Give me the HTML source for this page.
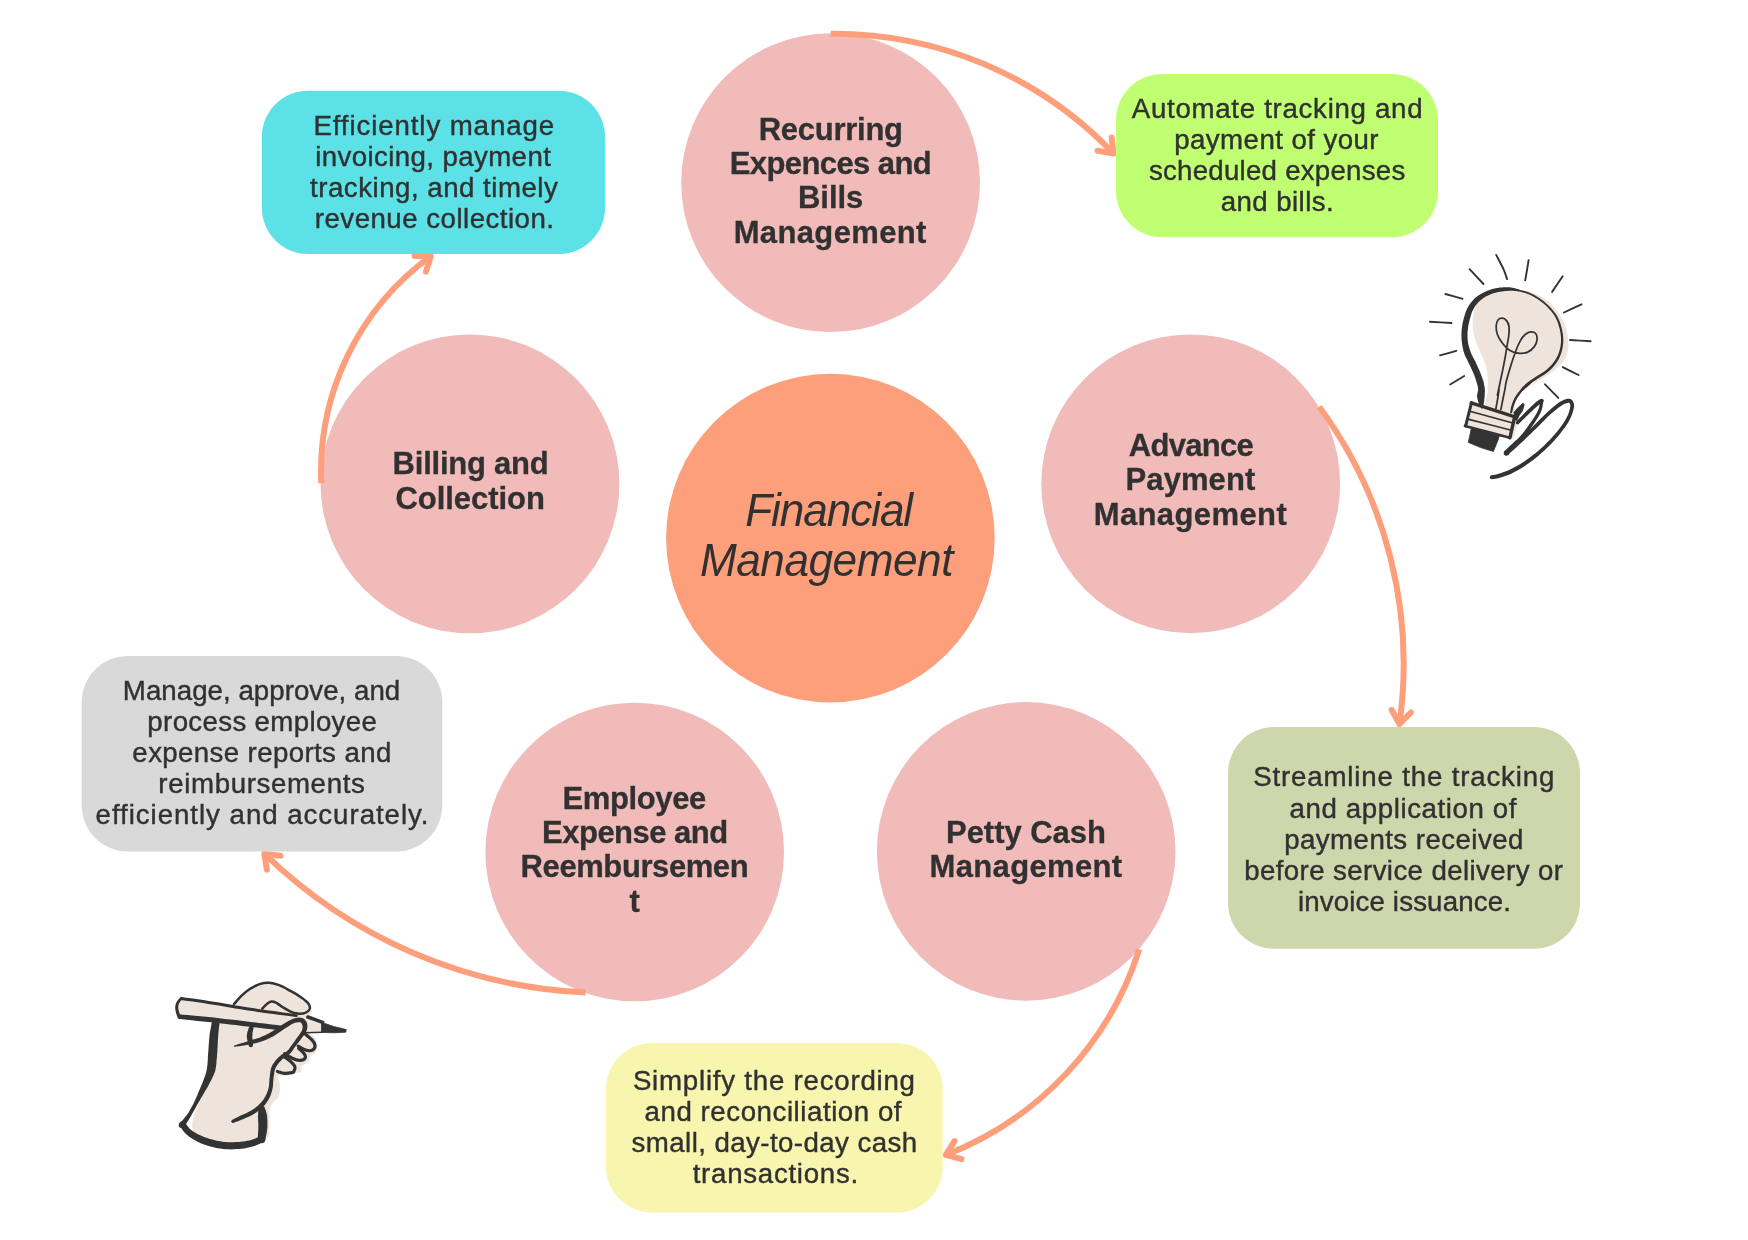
<!DOCTYPE html>
<html lang="en"><head><meta charset="utf-8"><title>Financial Management</title>
<style>
html,body{margin:0;padding:0;background:#fff}
body{width:1748px;height:1240px;overflow:hidden}
svg{display:block}
text{font-family:"Liberation Sans",sans-serif;fill:#313132}
.r{font-size:27px;stroke:#313132;stroke-width:0.4px}
.b{font-size:31px;font-weight:700;stroke:#313132;stroke-width:0.3px}
.i{font-size:46.5px;font-style:italic}
</style></head><body>
<svg width="1748" height="1240" viewBox="0 0 1748 1240">
<g id="circles">
<circle cx="830.6" cy="182.7" r="149.4" fill="#F1BBB9"/>
<circle cx="470" cy="483.9" r="149.4" fill="#F1BBB9"/>
<circle cx="1190.7" cy="483.8" r="149.4" fill="#F1BBB9"/>
<circle cx="634.7" cy="852" r="149.3" fill="#F1BBB9"/>
<circle cx="1026.2" cy="851.4" r="149.3" fill="#F1BBB9"/>
<circle cx="830.4" cy="538.1" r="164.3" fill="#FE9F7C"/>
</g>
<g id="arrows">
<path d="M830.70 33.68A386.04 386.04 0 0 1 1113.61 153.59" fill="none" stroke="#FE9F7C" stroke-width="6"/><path d="M1097.55 150.78L1113.61 153.59L1111.60 137.41" fill="none" stroke="#FE9F7C" stroke-width="6" stroke-linecap="round" stroke-linejoin="round"/>
<path d="M321.27 483.20A266.64 266.64 0 0 1 430.83 256.17" fill="none" stroke="#FE9F7C" stroke-width="6"/><path d="M425.94 271.72L430.83 256.17L414.53 256.04" fill="none" stroke="#FE9F7C" stroke-width="6" stroke-linecap="round" stroke-linejoin="round"/>
<path d="M1319.17 406.72A433.51 433.51 0 0 1 1399.44 724.11" fill="none" stroke="#FE9F7C" stroke-width="6"/><path d="M1391.66 709.78L1399.44 724.11L1410.86 712.48" fill="none" stroke="#FE9F7C" stroke-width="6" stroke-linecap="round" stroke-linejoin="round"/>
<path d="M1139.28 949.26A327.22 327.22 0 0 1 945.83 1154.91" fill="none" stroke="#FE9F7C" stroke-width="6"/><path d="M954.54 1141.14L945.83 1154.91L961.55 1159.22" fill="none" stroke="#FE9F7C" stroke-width="6" stroke-linecap="round" stroke-linejoin="round"/>
<path d="M585.51 992.48A492.89 492.89 0 0 1 264.29 853.61" fill="none" stroke="#FE9F7C" stroke-width="6"/><path d="M280.44 855.78L264.29 853.61L266.93 869.69" fill="none" stroke="#FE9F7C" stroke-width="6" stroke-linecap="round" stroke-linejoin="round"/>
</g>
<g id="boxes">
<rect x="261.9" y="90.7" width="343.1" height="163.3" rx="46" fill="#5CE1E6"/>
<rect x="1116.0" y="74.0" width="322.0" height="163.2" rx="46" fill="#C1FF72"/>
<rect x="81.7" y="656.0" width="360.6" height="195.5" rx="46" fill="#D9D9D9"/>
<rect x="606.0" y="1043.1" width="336.8" height="169.4" rx="46" fill="#F8F5AE"/>
<rect x="1228.0" y="727.0" width="352.0" height="221.8" rx="46" fill="#CED6AB"/>
</g>
<g id="illus">
<path d="M1478.1 301.9C1480.4 299.0 1484.3 297.4 1487.7 295.8C1491.2 294.2 1494.8 293.0 1498.6 292.2C1502.5 291.4 1506.7 291.3 1510.7 291.0C1514.8 290.7 1518.8 290.0 1522.8 290.4C1526.9 290.8 1531.1 291.9 1534.9 293.4C1538.7 294.9 1542.4 296.8 1545.8 299.4C1549.2 302.1 1552.5 305.3 1555.5 309.1C1558.5 312.9 1561.9 318.0 1564.0 322.4C1566.0 326.9 1566.9 331.5 1567.6 335.7C1568.3 340.0 1568.6 344.0 1568.2 347.8C1567.8 351.7 1566.7 355.7 1565.2 358.7C1563.6 361.7 1561.5 363.5 1559.1 366.0C1556.7 368.4 1553.7 371.0 1550.6 373.2C1547.6 375.4 1544.2 377.1 1541.0 379.3C1537.7 381.5 1533.9 383.9 1531.3 386.5C1528.7 389.2 1524.3 396.6 1525.2 395.0C1526.2 393.4 1536.5 378.7 1536.8 376.8C1537.1 374.9 1530.0 381.0 1527.1 383.6C1524.2 386.1 1521.5 389.2 1519.4 392.3C1517.3 395.3 1515.7 398.6 1514.5 401.9C1513.4 405.3 1517.3 411.9 1512.6 412.6C1507.9 413.2 1490.7 408.9 1486.5 405.8C1482.3 402.7 1487.2 398.6 1487.4 394.2C1487.7 389.8 1487.9 381.2 1487.9 379.7C1488.0 378.2 1487.8 386.0 1487.7 385.3C1487.7 384.6 1488.0 378.9 1487.7 375.6C1487.4 372.4 1486.8 369.2 1485.9 366.0C1485.0 362.7 1483.7 359.7 1482.3 356.3C1480.9 352.9 1478.9 349.0 1477.5 345.4C1476.0 341.8 1474.6 338.1 1473.8 334.5C1473.0 330.9 1472.6 327.3 1472.6 323.6C1472.6 320.0 1472.9 316.4 1473.8 312.7C1474.7 309.1 1475.7 304.7 1478.1 301.9Z" fill="#EEE4DB"/>
<path d="M1471.0 402.4L1515.0 416.5L1516.5 424.2L1513.6 437.8L1509.7 437.8L1465.4 426.1Z" fill="#EEE4DB" stroke="#EEE4DB" stroke-width="0.8" stroke-linejoin="round"/>
<path d="M1516.6 290.8L1517.9 291.2L1519.8 291.6L1521.9 292.2L1524.2 292.8L1526.5 293.5L1528.5 294.2L1530.4 295.0L1532.2 295.9L1534.0 296.9L1535.8 297.9L1537.5 299.0L1539.2 300.2L1540.9 301.4L1542.6 302.8L1544.2 304.1L1545.8 305.6L1547.3 307.1L1548.7 308.6L1550.1 310.1L1551.4 311.6L1552.6 313.1L1553.8 314.7L1554.8 316.3L1555.8 318.1L1556.7 319.9L1557.5 321.8L1558.2 323.8L1558.8 325.9L1559.4 327.9L1559.9 329.9L1560.3 331.9L1560.6 333.9L1560.8 335.8L1561.0 337.8L1561.0 339.8L1561.0 341.7L1560.8 343.7L1560.6 345.7L1560.2 347.7L1559.7 349.7L1559.2 351.6L1558.6 353.5L1557.9 355.2L1557.1 356.8L1556.3 358.3L1555.4 359.8L1554.4 361.3L1553.3 362.8L1552.1 364.2L1550.8 365.7L1549.4 367.1L1547.9 368.5L1546.5 369.8L1545.0 371.0L1543.5 372.1L1541.9 373.1L1540.3 374.0L1538.6 375.0L1537.0 375.9L1535.4 376.9L1533.9 378.0L1532.4 379.0L1530.9 380.0L1529.5 381.0L1528.1 382.1L1526.8 383.1L1525.4 384.3L1523.9 385.7L1522.5 387.1L1521.4 388.4L1520.6 389.2L1522.4 391.2L1523.5 390.3L1525.4 388.6L1527.8 386.5L1530.1 384.4L1531.9 382.8L1532.8 381.9L1530.9 380.4L1529.7 381.3L1527.9 382.7L1525.9 384.3L1524.0 386.0L1522.4 387.5L1521.0 388.9L1519.8 390.4L1518.6 391.9L1517.4 393.4L1516.4 394.9L1515.4 396.5L1514.5 398.0L1513.8 399.6L1513.1 401.1L1512.5 402.6L1512.0 404.1L1511.5 405.5L1511.1 406.8L1510.8 408.2L1510.6 409.6L1510.4 410.7L1510.3 411.7L1510.2 412.4L1512.1 412.8L1512.3 412.0L1512.5 411.1L1512.7 409.9L1513.0 408.7L1513.3 407.4L1513.7 406.2L1514.2 404.9L1514.7 403.5L1515.3 402.1L1516.0 400.6L1516.7 399.2L1517.5 397.8L1518.5 396.3L1519.5 394.9L1520.5 393.4L1521.7 392.0L1522.9 390.6L1524.1 389.3L1525.6 387.8L1527.5 386.2L1529.4 384.6L1531.1 383.2L1532.3 382.3L1531.1 380.4L1530.4 381.0L1528.5 382.6L1526.1 384.6L1523.7 386.7L1521.8 388.3L1520.8 389.1L1522.7 390.9L1523.3 390.2L1524.4 389.0L1525.8 387.6L1527.2 386.3L1528.5 385.1L1529.7 384.2L1531.0 383.2L1532.4 382.2L1533.9 381.2L1535.4 380.2L1536.9 379.2L1538.4 378.2L1540.0 377.3L1541.6 376.3L1543.3 375.3L1545.0 374.3L1546.6 373.1L1548.2 371.8L1549.7 370.4L1551.2 368.9L1552.7 367.4L1554.0 365.9L1555.3 364.3L1556.4 362.8L1557.5 361.2L1558.5 359.6L1559.3 357.9L1560.1 356.1L1560.9 354.3L1561.5 352.3L1562.0 350.3L1562.5 348.2L1562.9 346.1L1563.1 343.9L1563.3 341.8L1563.3 339.8L1563.2 337.7L1563.1 335.6L1562.8 333.5L1562.4 331.5L1562.0 329.4L1561.5 327.4L1560.9 325.2L1560.2 323.1L1559.4 321.1L1558.6 319.0L1557.6 317.1L1556.6 315.3L1555.4 313.6L1554.2 311.9L1552.9 310.3L1551.6 308.8L1550.1 307.2L1548.7 305.7L1547.1 304.2L1545.4 302.7L1543.8 301.3L1542.0 300.0L1540.3 298.7L1538.5 297.5L1536.7 296.4L1534.9 295.3L1533.0 294.3L1531.1 293.4L1529.2 292.5L1527.1 291.8L1524.7 291.1L1522.4 290.5L1520.2 289.9L1518.3 289.5L1517.0 289.2Z" fill="#333333"/><circle cx="1516.8" cy="290.0" r="0.85" fill="#333333"/><circle cx="1511.1" cy="412.6" r="0.97" fill="#333333"/>
<path d="M1518.7 289.5L1517.8 289.2L1516.5 288.8L1515.0 288.3L1513.3 287.9L1511.4 287.5L1509.6 287.2L1507.7 287.2L1505.8 287.2L1503.8 287.2L1501.7 287.4L1499.6 287.6L1497.6 287.9L1495.6 288.3L1493.5 288.8L1491.5 289.3L1489.5 290.0L1487.5 290.7L1485.6 291.5L1483.7 292.4L1481.8 293.4L1480.0 294.5L1478.3 295.6L1476.6 296.8L1475.0 298.1L1473.6 299.4L1472.3 300.9L1471.0 302.4L1469.9 303.9L1468.9 305.5L1467.9 307.2L1467.0 308.9L1466.2 310.7L1465.5 312.6L1464.9 314.4L1464.4 316.2L1463.9 318.0L1463.4 319.8L1463.0 321.7L1462.6 323.6L1462.2 325.5L1462.0 327.4L1461.7 329.4L1461.6 331.4L1461.5 333.3L1461.4 335.4L1461.5 337.4L1461.6 339.5L1461.8 341.5L1462.0 343.6L1462.3 345.6L1462.7 347.7L1463.2 349.7L1463.7 351.7L1464.3 353.8L1465.1 355.8L1466.0 357.7L1467.0 359.6L1467.9 361.4L1468.8 363.2L1469.7 364.9L1470.5 366.7L1471.3 368.6L1472.2 370.4L1473.0 372.2L1473.7 373.9L1474.4 375.6L1475.1 377.5L1475.7 379.5L1476.4 381.6L1476.9 383.5L1477.4 384.9L1477.7 385.9L1484.1 383.7L1483.8 382.6L1483.3 381.1L1482.8 379.6L1482.4 378.4L1476.0 379.7L1476.2 380.8L1476.6 382.1L1477.1 383.8L1477.6 385.6L1477.9 387.4L1478.2 388.7L1478.1 389.8L1477.9 390.9L1477.7 392.2L1477.4 393.5L1477.1 395.0L1477.0 396.6L1477.3 398.1L1477.6 399.5L1477.9 400.8L1478.3 402.0L1478.7 403.1L1479.0 404.1L1479.4 405.0L1479.8 405.9L1480.2 406.6L1480.6 407.3L1481.0 407.9L1481.3 408.3L1482.3 408.2L1482.6 407.7L1482.8 407.1L1483.1 406.4L1483.4 405.6L1483.6 404.6L1483.8 403.7L1484.0 402.6L1484.1 401.4L1484.2 400.2L1484.3 399.0L1484.5 397.8L1484.7 396.7L1484.7 395.6L1484.7 394.4L1484.8 393.1L1484.9 391.5L1484.9 389.9L1484.7 388.1L1484.4 386.1L1483.9 384.1L1483.4 382.1L1482.9 380.3L1482.6 379.0L1482.5 378.7L1476.2 380.5L1476.5 381.5L1476.9 383.0L1477.3 384.4L1477.6 385.4L1484.0 383.5L1483.8 382.9L1483.3 381.5L1482.7 379.6L1482.0 377.5L1481.3 375.3L1480.5 373.3L1479.8 371.4L1479.0 369.5L1478.1 367.7L1477.3 365.8L1476.4 364.0L1475.6 362.1L1474.7 360.3L1473.7 358.4L1472.8 356.7L1471.9 354.9L1471.1 353.2L1470.5 351.6L1469.9 349.8L1469.3 348.0L1468.8 346.2L1468.4 344.4L1468.0 342.6L1467.8 340.8L1467.6 339.0L1467.5 337.2L1467.5 335.4L1467.5 333.6L1467.6 331.8L1467.8 330.0L1468.0 328.2L1468.2 326.5L1468.5 324.7L1468.9 323.0L1469.3 321.3L1469.7 319.6L1470.2 317.8L1470.7 316.1L1471.2 314.4L1471.7 312.8L1472.3 311.3L1473.0 309.9L1473.8 308.4L1474.6 307.0L1475.5 305.7L1476.5 304.4L1477.5 303.2L1478.7 302.0L1479.9 300.8L1481.3 299.7L1482.7 298.6L1484.3 297.6L1485.9 296.6L1487.5 295.7L1489.2 294.9L1491.0 294.2L1492.8 293.6L1494.7 293.1L1496.6 292.6L1498.4 292.1L1500.3 291.8L1502.2 291.4L1504.1 291.2L1506.0 291.0L1507.8 290.9L1509.5 290.8L1511.1 290.8L1512.8 290.8L1514.5 290.9L1516.1 291.1L1517.4 291.2L1518.4 291.2Z" fill="#333333"/><circle cx="1518.6" cy="290.4" r="0.85" fill="#333333"/><circle cx="1481.8" cy="408.2" r="0.48" fill="#333333"/>
<path d="M1495.9 408.7C1496.5 405.5 1498.8 391.6 1499.0 389.4C1499.3 387.1 1497.1 396.9 1497.4 395.0C1497.8 393.1 1499.8 383.9 1501.0 378.1C1502.3 372.2 1503.7 365.4 1504.7 359.9C1505.7 354.5 1506.4 349.6 1507.1 345.4C1507.8 341.2 1508.6 337.7 1508.9 334.5C1509.2 331.3 1509.3 328.4 1508.9 326.0C1508.5 323.7 1507.6 321.9 1506.5 320.6C1505.4 319.3 1503.7 318.3 1502.3 318.2C1500.8 318.1 1499.0 318.7 1498.0 320.0C1497.0 321.3 1496.3 323.6 1496.2 326.0C1496.1 328.5 1496.4 331.7 1497.4 334.5C1498.4 337.3 1500.2 340.4 1502.3 343.0C1504.3 345.6 1506.7 348.5 1509.5 350.2C1512.3 352.0 1516.2 353.0 1519.2 353.3C1522.2 353.6 1525.1 353.2 1527.7 352.1C1530.2 350.9 1532.7 348.7 1534.3 346.6C1535.9 344.5 1536.9 341.6 1537.1 339.4C1537.3 337.1 1536.6 334.6 1535.5 333.3C1534.5 332.1 1532.4 331.7 1530.7 331.9C1529.0 332.1 1527.0 333.1 1525.2 334.5C1523.5 336.0 1522.0 337.7 1520.4 340.6C1518.8 343.4 1517.2 347.2 1515.6 351.5C1514.0 355.7 1512.2 361.1 1510.7 366.0C1509.2 370.8 1507.5 376.6 1506.5 380.5C1505.5 384.4 1505.8 384.5 1504.9 389.4C1503.9 394.2 1501.5 406.3 1500.8 409.7" fill="none" stroke="#333333" stroke-width="1.75" stroke-linecap="round" stroke-linejoin="round"/>
<path d="M1471.2 402.9C1478.5 405.2 1507.7 414.6 1515.0 416.9" fill="none" stroke="#333333" stroke-width="3.30" stroke-linecap="round" stroke-linejoin="round"/>
<path d="M1471.5 402.6C1470.5 406.5 1466.7 422.1 1465.7 425.9" fill="none" stroke="#333333" stroke-width="3.00" stroke-linecap="round" stroke-linejoin="round"/>
<path d="M1464.9 425.9C1472.3 427.9 1502.2 435.8 1509.7 437.8" fill="none" stroke="#333333" stroke-width="2.60" stroke-linecap="round" stroke-linejoin="round"/>
<path d="M1514.7 416.7C1513.9 420.2 1510.7 434.2 1509.9 437.8" fill="none" stroke="#333333" stroke-width="3.40" stroke-linecap="round" stroke-linejoin="round"/>
<path d="M1470.8 411.6C1477.8 413.5 1505.8 421.0 1512.8 422.9" fill="none" stroke="#333333" stroke-width="1.60" stroke-linecap="round" stroke-linejoin="round"/>
<path d="M1468.8 419.4C1475.9 421.2 1504.3 428.4 1511.3 430.2" fill="none" stroke="#333333" stroke-width="1.60" stroke-linecap="round" stroke-linejoin="round"/>
<path d="M1471.5 427.7L1499.2 436.0L1498.1 439.9L1493.4 451.5L1480.7 447.6L1468.3 442.4Z" fill="#333333" stroke="#333333" stroke-width="0.8" stroke-linejoin="round"/>
<path d="M1496.2 254.9C1497.4 257.3 1501.7 265.2 1503.5 269.2C1505.3 273.2 1506.5 277.5 1507.1 279.1" fill="none" stroke="#333333" stroke-width="1.90" stroke-linecap="round" stroke-linejoin="round"/>
<path d="M1528.6 260.1C1528.1 263.5 1525.8 277.0 1525.2 280.3" fill="none" stroke="#333333" stroke-width="1.90" stroke-linecap="round" stroke-linejoin="round"/>
<path d="M1562.7 276.2C1561.0 278.8 1553.9 289.3 1552.1 291.9" fill="none" stroke="#333333" stroke-width="1.90" stroke-linecap="round" stroke-linejoin="round"/>
<path d="M1581.5 304.3C1578.6 305.6 1566.9 311.1 1564.0 312.5" fill="none" stroke="#333333" stroke-width="1.90" stroke-linecap="round" stroke-linejoin="round"/>
<path d="M1590.6 341.2C1587.1 341.0 1573.4 340.2 1570.0 340.0" fill="none" stroke="#333333" stroke-width="1.90" stroke-linecap="round" stroke-linejoin="round"/>
<path d="M1578.5 375.0C1575.8 373.7 1565.4 368.5 1562.7 367.2" fill="none" stroke="#333333" stroke-width="1.90" stroke-linecap="round" stroke-linejoin="round"/>
<path d="M1545.0 384.3C1547.2 386.6 1556.1 395.6 1558.3 397.9" fill="none" stroke="#333333" stroke-width="1.90" stroke-linecap="round" stroke-linejoin="round"/>
<path d="M1469.6 269.2C1471.9 271.7 1481.2 281.5 1483.5 284.0" fill="none" stroke="#333333" stroke-width="1.90" stroke-linecap="round" stroke-linejoin="round"/>
<path d="M1445.4 294.0C1448.3 294.8 1459.7 298.0 1462.6 298.8" fill="none" stroke="#333333" stroke-width="1.90" stroke-linecap="round" stroke-linejoin="round"/>
<path d="M1429.9 321.8C1433.5 322.0 1447.9 322.8 1451.5 323.0" fill="none" stroke="#333333" stroke-width="1.90" stroke-linecap="round" stroke-linejoin="round"/>
<path d="M1440.0 355.3C1442.7 354.6 1453.6 351.6 1456.3 350.8" fill="none" stroke="#333333" stroke-width="1.90" stroke-linecap="round" stroke-linejoin="round"/>
<path d="M1450.2 384.5C1452.5 383.1 1461.9 377.4 1464.2 376.0" fill="none" stroke="#333333" stroke-width="1.90" stroke-linecap="round" stroke-linejoin="round"/>
<path d="M1513.8 412.6L1517.4 408.2L1523.1 403.1L1524.2 405.3L1522.5 410.7L1519.2 415.5L1516.7 420.8L1515.0 418.4Z" fill="#333333" stroke="#333333" stroke-width="0.8" stroke-linejoin="round"/>
<path d="M1518.6 423.9L1519.7 422.9L1521.2 421.4L1522.9 419.7L1524.8 417.9L1526.7 416.0L1528.4 414.4L1530.1 412.8L1531.8 411.2L1533.6 409.6L1535.2 408.1L1536.8 406.7L1538.1 405.6L1539.2 404.7L1540.2 403.9L1541.0 403.3L1541.7 402.8L1542.3 402.4L1542.8 402.0L1540.8 399.0L1540.3 399.2L1539.7 399.6L1538.8 400.1L1537.9 400.7L1536.7 401.5L1535.5 402.5L1534.1 403.8L1532.6 405.2L1530.9 406.8L1529.2 408.4L1527.5 410.1L1525.8 411.8L1524.1 413.5L1522.3 415.4L1520.4 417.2L1518.7 419.0L1517.3 420.5L1516.3 421.6Z" fill="#333333"/><circle cx="1517.4" cy="422.8" r="1.65" fill="#333333"/><circle cx="1541.8" cy="400.5" r="1.84" fill="#333333"/>
<path d="M1540.3 400.5L1540.1 401.6L1539.9 403.0L1539.6 404.7L1539.3 406.5L1538.8 408.3L1538.2 410.1L1537.4 411.7L1536.5 413.5L1535.4 415.3L1534.2 417.2L1532.9 419.2L1531.5 421.3L1529.9 423.6L1528.2 426.0L1526.4 428.5L1524.5 431.0L1522.6 433.4L1520.8 435.5L1519.0 437.5L1517.1 439.4L1515.1 441.1L1513.3 442.8L1511.5 444.4L1510.0 445.8L1508.7 447.1L1507.5 448.2L1506.5 449.2L1505.6 450.1L1504.9 450.7L1504.4 451.3L1508.2 454.8L1508.7 454.2L1509.3 453.5L1510.1 452.6L1511.0 451.6L1512.1 450.4L1513.3 449.1L1514.7 447.6L1516.3 446.0L1518.1 444.2L1520.0 442.3L1521.9 440.2L1523.7 438.0L1525.6 435.7L1527.5 433.2L1529.3 430.7L1531.1 428.1L1532.8 425.5L1534.3 423.2L1535.7 421.1L1537.0 419.0L1538.3 417.0L1539.4 415.1L1540.3 413.2L1541.2 411.2L1541.9 409.2L1542.4 407.2L1542.7 405.3L1543.0 403.5L1543.2 402.1L1543.4 401.0Z" fill="#333333"/><circle cx="1541.8" cy="400.8" r="1.55" fill="#333333"/><circle cx="1506.3" cy="453.1" r="2.61" fill="#333333"/>
<path d="M1508.1 454.5L1509.2 453.6L1510.7 452.3L1512.5 450.7L1514.5 448.9L1516.7 447.0L1518.8 445.1L1521.0 443.0L1523.3 440.9L1525.8 438.5L1528.3 436.1L1530.8 433.7L1533.2 431.3L1535.7 428.9L1538.2 426.4L1540.7 423.9L1543.1 421.4L1545.5 419.0L1547.7 416.8L1550.0 414.8L1552.2 412.8L1554.4 410.9L1556.5 409.2L1558.4 407.7L1560.2 406.4L1561.7 405.4L1563.1 404.6L1564.3 404.0L1565.4 403.5L1566.4 403.2L1567.3 402.9L1568.1 402.7L1568.5 402.7L1568.8 402.7L1569.0 402.7L1569.2 402.8L1569.4 402.9L1569.6 403.1L1569.8 403.4L1570.0 403.8L1570.2 404.3L1570.3 405.0L1570.3 405.8L1570.2 406.7L1570.0 407.9L1569.8 409.2L1569.4 410.5L1569.0 411.9L1568.5 413.4L1567.9 414.9L1567.2 416.4L1566.4 418.0L1565.6 419.6L1564.5 421.3L1563.3 423.2L1561.9 425.2L1560.3 427.4L1558.6 429.7L1556.7 432.0L1554.8 434.3L1552.8 436.5L1550.9 438.7L1548.9 440.8L1546.8 442.8L1544.7 444.9L1542.6 446.9L1540.3 448.9L1538.1 450.9L1535.7 452.9L1533.3 454.8L1530.8 456.8L1528.4 458.6L1526.0 460.3L1523.5 461.9L1521.1 463.5L1518.7 464.9L1516.3 466.3L1513.9 467.6L1511.7 468.8L1509.5 469.8L1507.3 470.7L1505.2 471.5L1503.1 472.3L1501.2 472.9L1499.4 473.5L1497.8 474.0L1496.2 474.4L1494.7 474.7L1493.4 474.9L1492.3 475.2L1491.4 475.3L1492.1 479.2L1493.0 479.0L1494.1 478.9L1495.5 478.7L1497.1 478.4L1498.8 478.0L1500.6 477.5L1502.5 476.9L1504.5 476.3L1506.7 475.5L1508.9 474.7L1511.2 473.7L1513.5 472.6L1515.9 471.3L1518.3 470.0L1520.8 468.5L1523.3 467.0L1525.8 465.3L1528.3 463.6L1530.8 461.8L1533.2 459.9L1535.7 457.9L1538.2 455.9L1540.6 453.8L1542.9 451.8L1545.2 449.7L1547.4 447.6L1549.5 445.5L1551.6 443.4L1553.6 441.2L1555.6 439.0L1557.6 436.7L1559.5 434.4L1561.4 432.0L1563.3 429.6L1564.9 427.4L1566.4 425.2L1567.7 423.3L1568.8 421.4L1569.7 419.6L1570.5 417.9L1571.3 416.3L1571.9 414.7L1572.5 413.1L1573.0 411.5L1573.4 410.0L1573.7 408.5L1573.9 407.1L1574.0 405.9L1574.0 404.7L1573.8 403.6L1573.5 402.5L1573.1 401.6L1572.6 400.7L1572.0 400.0L1571.3 399.5L1570.4 399.0L1569.4 398.7L1568.4 398.7L1567.3 398.8L1566.3 399.0L1565.1 399.4L1563.9 399.8L1562.6 400.4L1561.2 401.2L1559.6 402.1L1557.9 403.3L1556.1 404.7L1554.1 406.3L1552.0 408.1L1549.8 410.0L1547.5 412.0L1545.2 414.2L1542.9 416.4L1540.5 418.8L1538.0 421.3L1535.6 423.8L1533.1 426.3L1530.7 428.7L1528.2 431.0L1525.7 433.4L1523.1 435.7L1520.7 438.0L1518.3 440.1L1516.1 442.0L1513.9 443.9L1511.8 445.7L1509.7 447.3L1507.8 448.8L1506.3 450.1L1505.1 451.0Z" fill="#333333"/><circle cx="1506.6" cy="452.8" r="2.32" fill="#333333"/><circle cx="1491.8" cy="477.3" r="1.94" fill="#333333"/>
<path d="M234.6 1004.8C238.2 1000.4 238.6 998.7 241.1 996.1C243.6 993.5 246.7 991.0 249.8 989.0C252.9 987.0 256.3 985.2 259.6 984.1C262.8 983.1 266.1 982.6 269.3 982.8C272.6 983.0 275.7 983.9 279.1 985.2C282.6 986.5 286.4 988.7 290.0 990.7C293.6 992.6 297.6 995.0 300.9 997.2C304.1 999.3 307.8 1001.3 309.6 1003.7C311.4 1006.1 312.3 1008.8 311.7 1011.3C311.2 1013.8 307.0 1015.7 306.3 1018.9C305.6 1022.2 305.9 1027.8 307.4 1030.9C308.8 1033.9 313.4 1034.9 315.0 1037.4C316.6 1039.9 317.2 1043.6 317.2 1046.1C317.2 1048.6 316.3 1050.8 315.0 1052.6C313.7 1054.4 310.7 1055.3 309.6 1057.0C308.5 1058.6 309.7 1060.9 308.5 1062.4C307.2 1063.8 303.2 1064.0 302.0 1065.7C300.7 1067.3 301.8 1071.0 300.9 1072.2C300.0 1073.3 298.9 1072.0 296.5 1072.6C294.2 1073.2 289.8 1075.3 286.7 1075.9C283.7 1076.4 279.2 1074.6 278.0 1075.9C276.9 1077.1 279.6 1080.0 279.7 1083.5C279.8 1086.9 280.1 1092.5 278.6 1096.5C277.0 1100.5 272.0 1101.8 270.4 1107.4C268.9 1113.0 269.9 1125.1 269.3 1130.2C268.8 1135.3 269.7 1135.7 267.2 1137.8C264.6 1139.9 258.5 1141.4 254.1 1142.7C249.8 1144.0 245.8 1144.9 241.1 1145.4C236.4 1146.0 230.9 1146.3 225.9 1146.0C220.8 1145.6 215.4 1144.5 210.7 1143.3C205.9 1142.0 200.7 1141.6 197.6 1138.4C194.5 1135.1 191.6 1130.3 192.2 1123.7C192.7 1117.1 198.2 1105.0 200.9 1098.7C203.6 1092.4 206.2 1090.0 208.5 1085.7C210.7 1081.3 213.0 1077.5 214.5 1072.6C215.9 1067.7 216.5 1061.7 217.2 1056.3C217.8 1050.9 217.9 1045.7 218.3 1040.0C218.6 1034.3 216.6 1028.0 219.3 1022.2C222.1 1016.3 230.9 1009.1 234.6 1004.8Z" fill="#EEE4DB"/>
<path d="M181.3 998.5L296.5 1015.7L308.5 1017.0L322.6 1022.4L322.6 1032.5L305.2 1032.5L284.6 1028.2L179.1 1017.0L176.7 1008.0L178.0 1002.1Z" fill="#EEE4DB" stroke="#EEE4DB" stroke-width="0.8" stroke-linejoin="round"/>
<path d="M321.5 1022.4L334.6 1026.7L346.3 1029.6L345.7 1032.2L334.6 1032.8L321.5 1032.4Z" fill="#333333" stroke="#333333" stroke-width="0.8" stroke-linejoin="round"/>
<path d="M307.9 1017.0C310.4 1017.9 320.2 1021.5 322.6 1022.4" fill="none" stroke="#333333" stroke-width="3.60" stroke-linecap="round" stroke-linejoin="round"/>
<path d="M305.2 1032.7C308.1 1032.6 319.7 1032.3 322.6 1032.2" fill="none" stroke="#333333" stroke-width="1.40" stroke-linecap="round" stroke-linejoin="round"/>
<path d="M181.1 1000.0L184.0 1000.4L187.9 1000.9L192.6 1001.6L197.8 1002.3L203.1 1003.1L208.2 1003.9L213.4 1004.7L218.7 1005.6L224.2 1006.6L229.8 1007.5L235.3 1008.4L240.9 1009.3L246.4 1010.2L252.1 1011.0L257.8 1011.9L263.3 1012.7L268.6 1013.4L273.5 1014.1L278.1 1014.7L282.7 1015.3L287.0 1015.8L290.8 1016.3L294.0 1016.7L296.4 1016.9L296.7 1014.4L294.3 1014.0L291.1 1013.6L287.3 1013.0L283.1 1012.4L278.5 1011.8L273.9 1011.1L269.0 1010.4L263.8 1009.7L258.2 1008.9L252.5 1008.0L246.9 1007.2L241.3 1006.3L235.8 1005.4L230.3 1004.5L224.7 1003.6L219.2 1002.6L213.8 1001.7L208.7 1000.9L203.5 1000.1L198.2 999.3L193.1 998.6L188.4 997.9L184.4 997.4L181.5 997.0Z" fill="#333333"/><circle cx="181.3" cy="998.5" r="1.52" fill="#333333"/><circle cx="296.5" cy="1015.7" r="1.30" fill="#333333"/>
<path d="M180.4 997.6L179.9 998.0L179.4 998.6L178.6 999.3L177.9 1000.1L177.2 1001.0L176.6 1002.0L176.1 1002.9L175.8 1003.9L175.5 1004.9L175.3 1005.9L175.2 1007.0L175.2 1008.1L175.3 1009.3L175.5 1010.6L175.8 1011.9L176.1 1013.1L176.4 1014.2L176.8 1015.2L177.1 1016.1L177.6 1016.8L178.1 1017.4L178.5 1017.8L178.8 1018.1L178.9 1018.3L181.5 1015.6L181.2 1015.4L180.9 1015.1L180.6 1014.9L180.3 1014.7L180.0 1014.4L179.8 1013.9L179.5 1013.2L179.2 1012.2L178.8 1011.1L178.6 1010.0L178.4 1008.9L178.3 1008.0L178.2 1007.1L178.3 1006.3L178.4 1005.5L178.6 1004.7L178.8 1003.9L179.1 1003.3L179.5 1002.6L180.0 1001.9L180.6 1001.1L181.3 1000.4L181.8 999.8L182.3 999.4Z" fill="#333333"/><circle cx="181.3" cy="998.5" r="1.30" fill="#333333"/><circle cx="180.2" cy="1017.0" r="1.85" fill="#333333"/>
<path d="M179.5 1019.0L182.5 1019.3L186.8 1019.8L191.8 1020.3L197.3 1020.9L202.9 1021.5L208.2 1022.1L213.4 1022.6L218.8 1023.2L224.3 1023.8L229.8 1024.5L235.3 1025.1L240.8 1025.7L246.5 1026.4L252.4 1027.1L258.4 1027.7L264.1 1028.4L269.2 1029.0L273.4 1029.4L276.8 1029.8L279.4 1030.0L281.5 1030.2L283.1 1030.3L284.4 1030.4L285.4 1030.4L285.9 1026.1L284.8 1026.0L283.5 1025.8L281.9 1025.6L279.9 1025.4L277.3 1025.1L274.0 1024.7L269.7 1024.2L264.6 1023.6L259.0 1022.9L253.0 1022.2L247.0 1021.5L241.4 1020.8L235.9 1020.1L230.4 1019.5L224.8 1018.9L219.3 1018.2L214.0 1017.6L208.7 1017.1L203.4 1016.6L197.8 1016.0L192.3 1015.5L187.2 1015.1L183.0 1014.7L179.9 1014.5Z" fill="#333333"/><circle cx="179.7" cy="1016.7" r="2.28" fill="#333333"/><circle cx="285.7" cy="1028.3" r="2.17" fill="#333333"/>
<path d="M211.8 1023.1L211.5 1024.3L211.2 1025.9L210.8 1027.8L210.4 1030.0L209.9 1032.4L209.6 1034.8L209.3 1037.3L209.1 1040.0L208.9 1042.8L208.7 1045.6L208.5 1048.5L208.3 1051.2L208.1 1054.0L207.9 1056.9L207.8 1059.8L207.6 1062.6L207.4 1065.1L207.1 1067.2L206.9 1068.8L206.7 1070.0L206.5 1071.0L206.2 1072.0L205.9 1073.2L205.5 1074.5L205.0 1075.9L204.5 1077.3L204.0 1078.7L203.4 1080.2L202.9 1081.7L202.3 1083.2L201.7 1084.6L201.1 1086.1L200.5 1087.5L199.9 1089.0L199.2 1090.5L198.5 1092.1L197.9 1093.7L197.2 1095.4L196.4 1097.1L195.7 1098.8L195.0 1100.5L194.2 1102.1L193.4 1103.8L192.5 1105.5L191.6 1107.1L190.7 1108.8L189.8 1110.3L189.0 1111.9L188.0 1113.3L187.0 1114.7L186.0 1116.1L185.0 1117.3L184.0 1118.5L183.2 1119.6L182.4 1120.5L181.7 1121.3L181.0 1122.0L180.4 1122.6L179.9 1123.1L179.5 1123.6L183.6 1127.1L183.9 1126.6L184.3 1126.1L184.9 1125.3L185.6 1124.5L186.3 1123.5L187.0 1122.4L187.8 1121.2L188.6 1119.9L189.5 1118.4L190.4 1116.9L191.3 1115.4L192.1 1113.8L193.1 1112.2L194.0 1110.6L195.0 1109.0L195.9 1107.3L196.8 1105.6L197.7 1104.0L198.7 1102.3L199.6 1100.7L200.5 1099.1L201.4 1097.5L202.3 1095.9L203.2 1094.4L204.1 1093.0L204.9 1091.6L205.7 1090.2L206.6 1088.8L207.4 1087.4L208.2 1086.0L208.9 1084.5L209.7 1083.1L210.5 1081.6L211.2 1080.1L211.9 1078.7L212.6 1077.2L213.1 1076.0L213.7 1074.9L214.2 1073.6L214.8 1072.2L215.3 1070.5L215.7 1068.5L216.1 1066.1L216.4 1063.4L216.6 1060.5L216.9 1057.6L217.1 1054.7L217.4 1051.8L217.5 1049.0L217.7 1046.2L217.8 1043.3L217.9 1040.6L218.1 1038.0L218.2 1035.6L218.4 1033.4L218.6 1031.2L218.8 1029.1L219.0 1027.1L219.2 1025.5L219.3 1024.3Z" fill="#333333"/><circle cx="215.5" cy="1023.7" r="3.80" fill="#333333"/><circle cx="181.5" cy="1125.3" r="2.72" fill="#333333"/>
<path d="M179.9 1126.0L180.5 1126.8L181.2 1128.0L182.2 1129.5L183.3 1131.1L184.7 1132.7L186.2 1134.3L187.8 1135.6L189.5 1136.9L191.3 1138.1L193.2 1139.3L195.2 1140.4L197.2 1141.5L199.2 1142.5L201.3 1143.4L203.4 1144.3L205.6 1145.1L207.9 1145.8L210.3 1146.5L212.7 1147.1L215.2 1147.7L217.7 1148.2L220.3 1148.6L223.0 1149.0L225.6 1149.2L228.3 1149.3L231.0 1149.4L233.7 1149.3L236.4 1149.1L239.0 1148.9L241.5 1148.7L243.9 1148.4L246.3 1148.0L248.5 1147.5L250.7 1147.0L252.7 1146.5L254.6 1145.9L256.4 1145.3L258.0 1144.6L259.4 1143.9L260.6 1143.2L261.5 1142.7L262.1 1142.4L259.2 1136.6L258.4 1136.9L257.4 1137.4L256.4 1138.0L255.2 1138.5L254.0 1139.0L252.6 1139.5L251.0 1139.9L249.1 1140.4L247.2 1140.8L245.1 1141.2L242.9 1141.5L240.7 1141.8L238.4 1142.0L236.0 1142.1L233.5 1142.2L231.0 1142.3L228.5 1142.2L226.1 1142.1L223.8 1141.9L221.4 1141.5L219.0 1141.1L216.7 1140.7L214.3 1140.1L212.1 1139.6L210.0 1139.0L207.9 1138.3L205.9 1137.6L204.0 1136.9L202.1 1136.1L200.2 1135.2L198.4 1134.4L196.6 1133.4L194.9 1132.4L193.3 1131.4L191.8 1130.4L190.5 1129.4L189.4 1128.4L188.3 1127.1L187.3 1125.8L186.4 1124.5L185.5 1123.3L184.9 1122.5Z" fill="#333333"/><circle cx="182.4" cy="1124.2" r="3.04" fill="#333333"/><circle cx="260.7" cy="1139.5" r="3.26" fill="#333333"/>
<path d="M265.3 1139.9L265.6 1138.5L265.9 1136.6L266.4 1134.4L266.8 1131.9L267.1 1129.4L267.4 1127.2L267.4 1125.0L267.4 1123.0L267.4 1121.0L267.3 1119.1L267.2 1117.4L267.1 1115.8L266.7 1114.2L266.4 1112.8L266.0 1111.4L265.6 1110.2L265.3 1109.3L265.0 1108.6L258.5 1109.4L258.4 1110.2L258.3 1111.2L258.2 1112.3L258.1 1113.6L258.1 1115.0L257.9 1116.4L258.0 1117.9L258.1 1119.6L258.2 1121.4L258.3 1123.2L258.3 1125.0L258.3 1126.8L258.3 1128.7L258.2 1131.0L258.0 1133.4L257.9 1135.7L257.8 1137.6L257.7 1139.0Z" fill="#333333"/><circle cx="261.5" cy="1139.5" r="3.80" fill="#333333"/><circle cx="261.7" cy="1109.0" r="3.26" fill="#333333"/>
<path d="M284.0 1026.5C287.2 1024.5 290.9 1022.1 293.8 1021.1C296.7 1020.1 299.6 1019.9 301.4 1020.4C303.2 1021.0 304.0 1022.7 304.5 1024.3C304.9 1026.0 304.9 1028.2 304.1 1030.3C303.4 1032.5 301.6 1034.8 299.8 1037.4C298.0 1040.0 296.2 1044.3 293.3 1046.1C290.4 1047.9 285.7 1049.0 282.4 1048.3C279.1 1047.5 275.0 1044.3 273.7 1041.7C272.4 1039.2 273.1 1035.6 274.8 1033.0C276.5 1030.5 280.9 1028.5 284.0 1026.5Z" fill="#EEE4DB"/>
<path d="M233.6 1122.8L234.5 1122.5L235.7 1122.1L237.1 1121.5L238.6 1120.9L240.3 1120.3L241.9 1119.6L243.6 1118.9L245.4 1118.1L247.4 1117.3L249.3 1116.4L251.2 1115.5L253.1 1114.5L254.7 1113.5L256.3 1112.4L257.9 1111.3L259.4 1110.1L260.8 1108.9L262.2 1107.6L263.5 1106.3L264.8 1104.9L266.0 1103.4L267.1 1101.8L268.1 1100.3L269.1 1098.6L269.9 1097.0L270.6 1095.2L271.2 1093.5L271.7 1091.7L272.2 1090.0L272.6 1088.2L272.9 1086.5L273.0 1084.7L273.1 1083.1L273.2 1081.5L273.3 1079.9L273.5 1078.3L273.7 1076.5L274.0 1074.7L274.2 1072.9L274.6 1071.1L275.0 1069.5L275.6 1068.0L276.3 1066.6L277.2 1065.2L278.2 1063.8L279.3 1062.5L280.5 1061.2L281.6 1060.0L282.9 1058.8L284.3 1057.8L285.8 1056.7L287.4 1055.6L288.9 1054.5L290.2 1053.4L291.3 1052.3L292.1 1051.2L292.8 1050.2L293.4 1049.2L294.0 1048.3L294.8 1047.2L295.7 1045.9L296.8 1044.5L298.0 1043.0L299.2 1041.4L300.3 1039.9L301.4 1038.5L302.3 1037.3L303.3 1036.1L304.2 1034.9L305.1 1033.7L305.8 1032.4L306.5 1031.1L306.9 1029.8L307.2 1028.5L307.4 1027.3L307.4 1026.0L307.3 1024.8L307.1 1023.7L306.7 1022.6L306.2 1021.5L305.5 1020.4L304.7 1019.4L303.5 1018.6L302.2 1017.9L300.7 1017.7L299.3 1017.6L297.8 1017.7L296.2 1017.9L294.7 1018.3L293.1 1018.8L291.5 1019.4L289.9 1020.2L288.3 1021.1L286.7 1022.0L285.0 1023.0L283.3 1024.1L281.6 1025.2L279.7 1026.4L277.9 1027.7L276.1 1028.9L274.2 1030.1L272.5 1031.2L270.7 1032.2L269.1 1033.2L267.4 1034.1L265.7 1035.0L263.9 1035.8L262.0 1036.6L260.0 1037.4L257.7 1038.2L255.4 1038.9L253.0 1039.6L250.6 1040.3L248.2 1041.0L245.8 1041.9L243.1 1042.7L240.5 1043.5L238.0 1044.2L235.9 1044.9L234.4 1045.5L234.7 1046.7L236.3 1046.6L238.5 1046.3L241.0 1045.9L243.8 1045.5L246.6 1045.1L249.2 1044.6L251.6 1044.1L254.0 1043.5L256.5 1042.9L259.0 1042.2L261.4 1041.6L263.6 1040.8L265.7 1040.0L267.7 1039.1L269.5 1038.3L271.3 1037.3L273.1 1036.4L274.9 1035.3L276.8 1034.1L278.7 1032.8L280.6 1031.5L282.4 1030.2L284.1 1029.0L285.8 1027.9L287.4 1026.9L289.0 1025.9L290.5 1024.9L291.9 1024.1L293.3 1023.4L294.5 1022.9L295.8 1022.6L297.0 1022.4L298.2 1022.2L299.2 1022.2L300.1 1022.3L300.7 1022.5L301.0 1022.7L301.3 1022.9L301.5 1023.3L301.8 1023.8L302.1 1024.4L302.3 1025.0L302.4 1025.6L302.6 1026.3L302.6 1027.1L302.6 1027.8L302.4 1028.7L302.2 1029.5L301.9 1030.4L301.4 1031.4L300.7 1032.5L299.9 1033.7L299.1 1034.9L298.2 1036.2L297.2 1037.6L296.1 1039.1L295.0 1040.7L293.8 1042.2L292.8 1043.7L291.8 1045.0L290.9 1046.2L290.2 1047.2L289.6 1048.1L289.1 1048.9L288.4 1049.7L287.6 1050.5L286.5 1051.4L285.1 1052.4L283.6 1053.4L281.9 1054.5L280.3 1055.7L278.8 1057.0L277.4 1058.4L276.2 1059.8L274.9 1061.3L273.8 1062.9L272.7 1064.6L271.8 1066.3L271.1 1068.3L270.6 1070.2L270.3 1072.2L270.0 1074.2L269.8 1076.0L269.6 1077.8L269.4 1079.6L269.3 1081.3L269.2 1082.9L269.1 1084.5L269.0 1085.9L268.7 1087.4L268.3 1089.0L267.9 1090.6L267.3 1092.1L266.7 1093.7L266.0 1095.1L265.3 1096.6L264.4 1098.0L263.5 1099.4L262.5 1100.7L261.4 1102.0L260.3 1103.3L259.1 1104.5L257.9 1105.7L256.6 1106.8L255.3 1107.8L253.9 1108.8L252.4 1109.8L250.9 1110.7L249.2 1111.6L247.5 1112.5L245.6 1113.4L243.7 1114.3L241.9 1115.1L240.2 1115.8L238.7 1116.6L237.1 1117.4L235.6 1118.1L234.2 1118.8L233.1 1119.4L232.3 1119.8Z" fill="#333333"/><circle cx="232.9" cy="1121.3" r="1.63" fill="#333333"/><circle cx="234.6" cy="1046.1" r="0.65" fill="#333333"/>
<path d="M249.2 1026.9L248.9 1027.7L248.4 1028.9L247.9 1030.4L247.4 1032.1L247.0 1033.9L246.7 1035.7L246.9 1037.6L247.2 1039.5L247.6 1041.3L248.1 1043.0L248.4 1044.4L248.7 1045.4L253.0 1044.6L252.9 1043.6L252.8 1042.1L252.6 1040.5L252.4 1038.8L252.3 1037.1L252.4 1035.8L252.4 1034.6L252.5 1033.1L252.8 1031.6L253.1 1030.1L253.3 1028.9L253.4 1027.9Z" fill="#333333"/><circle cx="251.3" cy="1027.4" r="2.17" fill="#333333"/><circle cx="250.9" cy="1045.0" r="2.17" fill="#333333"/>
<path d="M234.0 1004.2C235.2 1002.9 238.5 998.6 241.1 996.1C243.7 993.6 246.7 991.0 249.8 989.0C252.9 987.0 256.3 985.2 259.6 984.1C262.8 983.1 266.1 982.6 269.3 982.8C272.6 983.0 275.7 983.9 279.1 985.2C282.6 986.5 286.4 988.7 290.0 990.7C293.6 992.6 297.8 995.0 300.9 997.2C303.9 999.3 307.0 1001.7 308.5 1003.7C309.9 1005.7 310.1 1007.6 309.6 1009.1C309.0 1010.7 307.2 1012.2 305.2 1012.9C303.2 1013.7 300.1 1013.8 297.6 1013.5C295.1 1013.2 292.5 1012.4 290.0 1011.3C287.5 1010.2 284.7 1008.4 282.4 1007.0C280.0 1005.5 277.7 1003.5 275.9 1002.6C274.1 1001.7 273.0 1001.3 271.5 1001.5C270.1 1001.7 268.7 1002.5 267.2 1003.7C265.6 1004.9 263.1 1007.8 262.3 1008.6" fill="none" stroke="#333333" stroke-width="2.50" stroke-linecap="round" stroke-linejoin="round"/>
<path d="M305.2 1034.1C306.3 1035.0 310.1 1037.8 311.7 1039.6C313.4 1041.4 314.8 1043.3 315.0 1045.0C315.2 1046.7 314.3 1049.0 312.8 1049.9C311.4 1050.8 308.8 1050.9 306.3 1050.2C303.9 1049.6 299.5 1046.8 298.2 1046.1" fill="none" stroke="#333333" stroke-width="3.20" stroke-linecap="round" stroke-linejoin="round"/>
<path d="M298.7 1048.3C299.6 1049.2 303.0 1052.1 304.1 1053.7C305.2 1055.3 305.9 1056.9 305.2 1058.0C304.5 1059.2 302.0 1060.4 299.8 1060.4C297.6 1060.5 294.7 1059.4 292.2 1058.3C289.6 1057.1 285.8 1054.5 284.6 1053.7" fill="none" stroke="#333333" stroke-width="3.20" stroke-linecap="round" stroke-linejoin="round"/>
<path d="M284.6 1057.0C285.5 1057.6 288.3 1059.1 290.0 1060.8C291.7 1062.4 294.3 1064.9 294.9 1066.7C295.5 1068.6 294.3 1070.7 293.8 1071.6C293.4 1072.6 293.7 1072.3 292.2 1072.6C290.6 1072.9 287.0 1073.6 284.6 1073.4C282.1 1073.2 278.7 1071.8 277.5 1071.5" fill="none" stroke="#333333" stroke-width="3.20" stroke-linecap="round" stroke-linejoin="round"/>
</g>
<g id="labels" opacity="0.999">
<text class="r" transform="translate(313.45 134.50) scale(1.025 1)" style="letter-spacing:0.867px">Efficiently manage</text>
<text class="r" transform="translate(315.18 165.60) scale(1.025 1)" style="letter-spacing:0.376px">invoicing, payment</text>
<text class="r" transform="translate(310.10 196.70) scale(1.025 1)" style="letter-spacing:0.484px">tracking, and timely</text>
<text class="r" transform="translate(314.78 228.00) scale(1.025 1)" style="letter-spacing:0.463px">revenue collection.</text>
<text class="r" transform="translate(1131.80 118.20) scale(1.025 1)" style="letter-spacing:0.682px">Automate tracking and</text>
<text class="r" transform="translate(1174.27 149.20) scale(1.025 1)" style="letter-spacing:0.406px">payment of your</text>
<text class="r" transform="translate(1148.90 180.20) scale(1.025 1)" style="letter-spacing:0.237px">scheduled expenses</text>
<text class="r" transform="translate(1220.67 211.10) scale(1.025 1)" style="letter-spacing:0.411px">and bills.</text>
<text class="r" transform="translate(122.85 699.90) scale(1.025 1)" style="letter-spacing:0.028px">Manage, approve, and</text>
<text class="r" transform="translate(147.37 731.00) scale(1.025 1)" style="letter-spacing:0.327px">process employee</text>
<text class="r" transform="translate(132.37 762.20) scale(1.025 1)" style="letter-spacing:0.363px">expense reports and</text>
<text class="r" transform="translate(158.37 793.10) scale(1.025 1)" style="letter-spacing:0.607px">reimbursements</text>
<text class="r" transform="translate(95.58 824.30) scale(1.025 1)" style="letter-spacing:0.932px">efficiently and accurately.</text>
<text class="r" transform="translate(632.88 1089.80) scale(1.025 1)" style="letter-spacing:0.749px">Simplify the recording</text>
<text class="r" transform="translate(644.58 1120.70) scale(1.025 1)" style="letter-spacing:0.532px">and reconciliation of</text>
<text class="r" transform="translate(631.60 1151.80) scale(1.025 1)" style="letter-spacing:0.406px">small, day-to-day cash</text>
<text class="r" transform="translate(692.70 1182.90) scale(1.025 1)" style="letter-spacing:0.698px">transactions.</text>
<text class="r" transform="translate(1253.27 786.20) scale(1.025 1)" style="letter-spacing:0.802px">Streamline the tracking</text>
<text class="r" transform="translate(1289.58 817.70) scale(1.025 1)" style="letter-spacing:0.574px">and application of</text>
<text class="r" transform="translate(1284.17 848.80) scale(1.025 1)" style="letter-spacing:0.429px">payments received</text>
<text class="r" transform="translate(1244.17 880.10) scale(1.025 1)" style="letter-spacing:0.382px">before service delivery or</text>
<text class="r" transform="translate(1297.88 911.20) scale(1.025 1)" style="letter-spacing:0.144px">invoice issuance.</text>
<text class="b" x="758.70" y="139.90" style="letter-spacing:-0.260px">Recurring</text>
<text class="b" x="729.70" y="173.60" style="letter-spacing:-0.586px">Expences and</text>
<text class="b" x="798.00" y="208.10" style="letter-spacing:-0.031px">Bills</text>
<text class="b" x="733.70" y="242.80" style="letter-spacing:0.360px">Management</text>
<text class="b" x="392.60" y="474.40" style="letter-spacing:-0.230px">Billing and</text>
<text class="b" x="395.50" y="508.70" style="letter-spacing:-0.056px">Collection</text>
<text class="b" x="1128.80" y="455.70" style="letter-spacing:-0.730px">Advance</text>
<text class="b" x="1125.60" y="489.90" style="letter-spacing:0.067px">Payment</text>
<text class="b" x="1093.70" y="524.70" style="letter-spacing:0.394px">Management</text>
<text class="b" x="562.50" y="808.70" style="letter-spacing:-0.372px">Employee</text>
<text class="b" x="542.10" y="842.90" style="letter-spacing:-0.520px">Expense and</text>
<text class="b" x="520.60" y="876.80" style="letter-spacing:-0.414px">Reembursemen</text>
<text class="b" x="629.60" y="911.60" style="letter-spacing:0.000px">t</text>
<text class="b" x="946.00" y="842.50" style="letter-spacing:-0.032px">Petty Cash</text>
<text class="b" x="929.60" y="876.50" style="letter-spacing:0.338px">Management</text>
<text class="i" transform="translate(745.15 526.30) scale(0.95 1)" style="letter-spacing:-1.148px">Financial</text>
<text class="i" transform="translate(699.95 576.40) scale(0.95 1)" style="letter-spacing:-0.500px">Management</text>
</g>
</svg>
</body></html>
